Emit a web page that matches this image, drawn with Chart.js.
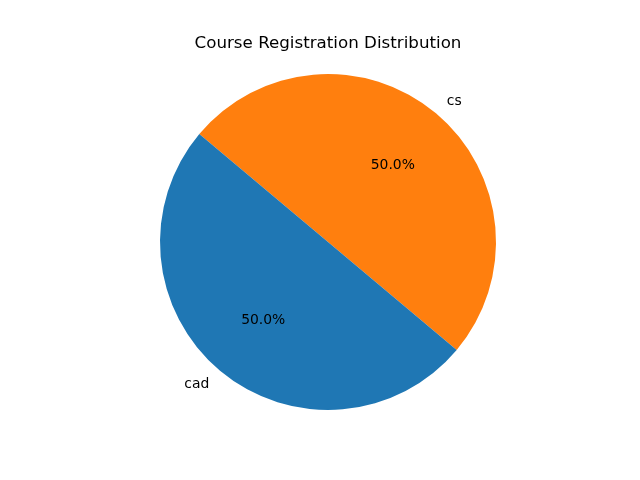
<!DOCTYPE html>
<html>
<head>
<meta charset="utf-8">
<script src="https://cdn.jsdelivr.net/npm/chart.js@4/dist/chart.umd.min.js"></script>
<style>
html,body{margin:0;padding:0;background:#fff;}
canvas{display:block;}
</style>
</head>
<body>
<canvas id="c" width="640" height="480"></canvas>
<script>
const categories = ["cs", "cad"];
const values = [50, 50];
const colors = ["#ff7f0e", "#1f77b4"];
const titleText = "Course Registration Distribution";

const labelPlugin = {
  id: 'mplLabels',
  afterDatasetsDraw(chart) {
    const ctx = chart.ctx;
    const meta = chart.getDatasetMeta(0);
    const total = values.reduce((a, b) => a + b, 0);
    ctx.save();
    ctx.fillStyle = '#000';
    ctx.font = '13.9px "DejaVu Sans"';
    ctx.textBaseline = 'middle';
    meta.data.forEach((arc, i) => {
      const p = arc.getProps(['x', 'y', 'startAngle', 'endAngle', 'outerRadius'], true);
      const mid = (p.startAngle + p.endAngle) / 2;
      const cx = Math.cos(mid), cy = Math.sin(mid);
      const lx = p.x + cx * p.outerRadius * 1.1;
      const ly = p.y + cy * p.outerRadius * 1.1 + 1;
      ctx.textAlign = cx > 0 ? 'left' : 'right';
      ctx.fillText(categories[i], lx, ly);
      const px = p.x + cx * p.outerRadius * 0.6;
      const py = p.y + cy * p.outerRadius * 0.6 + 1;
      ctx.textAlign = 'center';
      ctx.fillText((values[i] / total * 100).toFixed(1) + '%', px, py);
    });
    ctx.font = '16.7px "DejaVu Sans"';
    ctx.textAlign = 'center';
    ctx.fillText(titleText, 328, 44);
    ctx.restore();
  }
};

new Chart(document.getElementById('c'), {
  type: 'pie',
  data: {
    labels: categories,
    datasets: [{
      data: values,
      backgroundColor: colors,
      borderWidth: 0,
      hoverOffset: 0
    }]
  },
  options: {
    responsive: false,
    animation: false,
    rotation: 310,
    layout: { padding: { top: 74, bottom: 70, left: 160, right: 144 } },
    plugins: {
      legend: { display: false },
      tooltip: { enabled: false },
      title: { display: false }
    }
  },
  plugins: [labelPlugin]
});
</script>
</body>
</html>
